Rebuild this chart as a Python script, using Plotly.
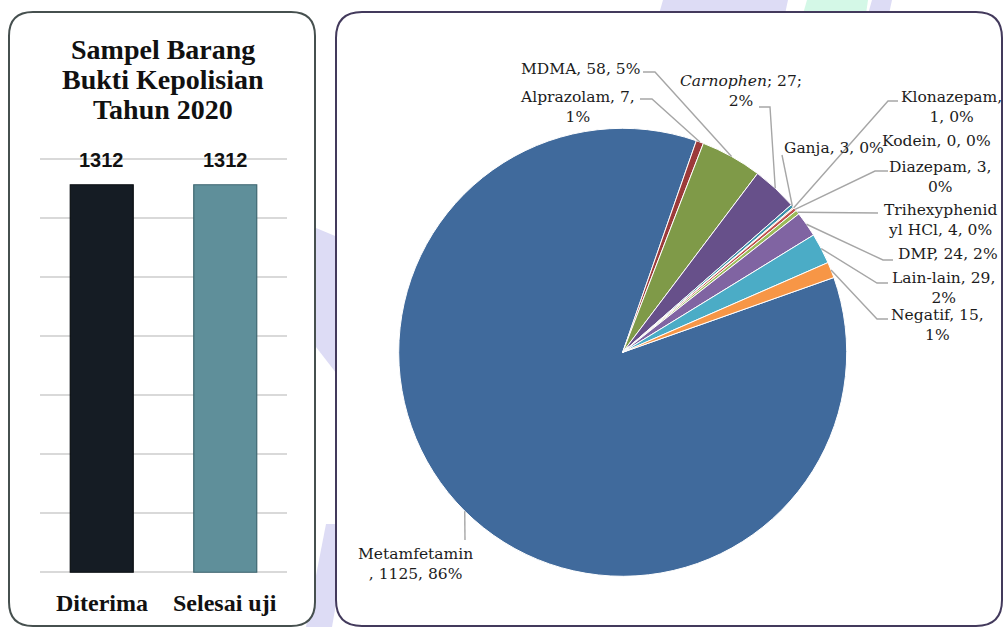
import math
import plotly.graph_objects as go

W, H = 1004, 627

# ---------------- data: bar chart ----------------
bar_categories = ["Diterima", "Selesai uji"]
bar_values = [1312, 1312]
bar_colors = ["#151c24", "#5f8f9a"]
bar_line_colors = ["#0a0e12", "#3e6670"]
bar_title_lines = ["Sampel Barang", "Bukti Kepolisian", "Tahun 2020"]
bar_ticks = [0, 200, 400, 600, 800, 1000, 1200, 1400]

# ---------------- data: pie chart ----------------
pie_labels = ["Metamfetamin", "Alprazolam", "MDMA", "Carnophen", "Ganja",
              "Klonazepam", "Kodein", "Diazepam", "Trihexyphenidyl HCl",
              "DMP", "Lain-lain", "Negatif"]
pie_values = [1125, 7, 58, 43, 3, 1, 0, 3, 4, 24, 29, 15]
pie_label_text = [
    "Metamfetamin<br>, 1125, 86%",
    "Alprazolam, 7,<br>1%",
    "MDMA, 58, 5%",
    "<i>Carnophen</i>; 27;<br>2%",
    "Ganja, 3, 0%",
    "Klonazepam,<br>1, 0%",
    "Kodein, 0, 0%",
    "Diazepam, 3,<br>0%",
    "Trihexyphenid<br>yl HCl, 4, 0%",
    "DMP, 24, 2%",
    "Lain-lain, 29,<br>2%",
    "Negatif, 15,<br>1%",
]
pie_colors = ["#406a9c", "#9c3a3a", "#7f9a48", "#67508a", "#3a91aa",
              "#e0823b", "#4f81bd", "#c0504d", "#9bbb59", "#8064a2",
              "#4bacc6", "#f79646"]

# ---------------- layout helpers (pixel -> paper) ----------------
def X(x):
    return x / W


def Y(y):
    return 1 - y / H


def rounded_rect(x0, y0, x1, y1, r):
    pts = [
        f"M {X(x0 + r)},{Y(y0)}",
        f"L {X(x1 - r)},{Y(y0)}",
        f"Q {X(x1)},{Y(y0)} {X(x1)},{Y(y0 + r)}",
        f"L {X(x1)},{Y(y1 - r)}",
        f"Q {X(x1)},{Y(y1)} {X(x1 - r)},{Y(y1)}",
        f"L {X(x0 + r)},{Y(y1)}",
        f"Q {X(x0)},{Y(y1)} {X(x0)},{Y(y1 - r)}",
        f"L {X(x0)},{Y(y0 + r)}",
        f"Q {X(x0)},{Y(y0)} {X(x0 + r)},{Y(y0)}",
        "Z",
    ]
    return " ".join(pts)


def poly(points):
    return "M " + " L ".join(f"{X(x)},{Y(y)}" for x, y in points) + " Z"


shapes = []
# faint decorative background marks
deco = [
    ([(316, 228), (340, 238), (340, 378), (316, 347)], "#dddcf5"),
    ([(326, 524), (350, 524), (332, 627), (306, 627)], "#dddcf5"),
    ([(663, 0), (788, 0), (785, 14), (659, 14)], "#dddcf5"),
    ([(807, 0), (868, 0), (866, 14), (803, 14)], "#d4f8e7"),
    ([(872, 0), (892, 0), (889, 14), (868, 14)], "#dddcf5"),
]
for pts, col in deco:
    shapes.append(dict(type="path", path=poly(pts), xref="paper", yref="paper",
                       fillcolor=col, line=dict(width=0), layer="below"))

# panels
shapes.append(dict(type="path", path=rounded_rect(9, 12, 315, 626, 24),
                   xref="paper", yref="paper", fillcolor="white",
                   line=dict(color="#46504f", width=2), layer="below"))
shapes.append(dict(type="path", path=rounded_rect(336, 12, 1002, 626, 26),
                   xref="paper", yref="paper", fillcolor="white",
                   line=dict(color="#433a5c", width=2), layer="below"))

fig = go.Figure()

# ---------------- bar chart ----------------
fig.add_trace(go.Bar(
    x=bar_categories, y=bar_values,
    marker=dict(color=bar_colors, line=dict(color=bar_line_colors, width=1.2)),
    xaxis="x", yaxis="y", showlegend=False, hoverinfo="x+y",
))

# ---------------- pie chart ----------------
cx, cy, R = 622.7, 352.3, 224
rotation = 70.5
fig.add_trace(go.Pie(
    labels=pie_labels, values=pie_values, sort=False, direction="clockwise",
    rotation=rotation, textinfo="none", showlegend=False,
    marker=dict(colors=pie_colors, line=dict(color="white", width=1)),
    domain=dict(x=[X(cx - R), X(cx + R)], y=[Y(cy + R), Y(cy - R)]),
))

# label positions (text block centers, px) and leader line starting points
label_layout = [
    ((415, 564), [(465, 540)]),
    ((577, 107), [(640, 99), (652, 99)]),
    ((580, 69), [(643, 72), (655, 72)]),
    ((741, 91), [(759, 107), (770, 107)]),
    ((834, 148), [(782, 155)]),
    ((951, 107), [(898, 101), (888, 101)]),
    ((936, 141), None),
    ((940, 177), [(888, 171), (875, 171)]),
    ((940, 220), [(878, 213)]),
    ((948, 254), [(893, 260), (883, 260)]),
    ((943, 288), [(888, 283), (877, 283)]),
    ((937, 325), [(888, 319), (877, 319)]),
]

total = sum(pie_values)
annotations = []
ang = rotation
for i, v in enumerate(pie_values):
    span = v / total * 360
    mid = math.radians(ang + span / 2)
    ang += span
    ex, ey = cx + R * math.sin(mid), cy - R * math.cos(mid)
    (tx, ty), lead = label_layout[i]
    annotations.append(dict(
        x=X(tx), y=Y(ty), xref="paper", yref="paper", text=pie_label_text[i],
        showarrow=False, xanchor="center", yanchor="middle", align="center",
        font=dict(family="DejaVu Serif", size=15.5, color="#1c1c1c"),
    ))
    if lead:
        pts = lead + [(ex, ey)]
        path = "M " + " L ".join(f"{X(x)},{Y(y)}" for x, y in pts)
        shapes.append(dict(type="path", path=path, xref="paper", yref="paper",
                           line=dict(color="#a6a6a6", width=1.4), layer="above"))

# bar chart texts
title_y = [49, 79, 109]
for line, yy in zip(bar_title_lines, title_y):
    annotations.append(dict(
        x=X(163), y=Y(yy), xref="paper", yref="paper", text=f"<b>{line}</b>",
        showarrow=False, xanchor="center", yanchor="middle",
        font=dict(family="Liberation Serif", size=28, color="#111111"),
    ))
for cat, val in zip(bar_categories, bar_values):
    annotations.append(dict(
        x=cat, y=val, xref="x", yref="y", text=f"<b>{val}</b>",
        showarrow=False, xanchor="center", yanchor="middle", yshift=25,
        font=dict(family="Liberation Sans", size=20, color="#111111"),
    ))
    annotations.append(dict(
        x=cat, y=Y(603), xref="x", yref="paper", text=f"<b>{cat}</b>",
        showarrow=False, xanchor="center", yanchor="middle",
        font=dict(family="Liberation Serif", size=24, color="#111111"),
    ))

fig.update_layout(
    width=W, height=H,
    margin=dict(l=0, r=0, t=0, b=0),
    paper_bgcolor="white",
    plot_bgcolor="rgba(0,0,0,0)",
    bargap=0.49,
    xaxis=dict(domain=[X(40), X(287)], anchor="y", showgrid=False,
               zeroline=False, showline=False, showticklabels=False,
               fixedrange=True),
    yaxis=dict(domain=[Y(574), Y(157)], anchor="x", range=[-6, 1406],
               tickvals=bar_ticks, showticklabels=False, showgrid=True,
               gridcolor="#d9d9d9", gridwidth=1.5, zeroline=False,
               showline=False, fixedrange=True),
    shapes=shapes,
    annotations=annotations,
)

fig.write_html(
    "out.html",
    config={"displayModeBar": False},
    post_script="document.body.style.margin='0px';document.body.style.overflow='hidden';",
)
